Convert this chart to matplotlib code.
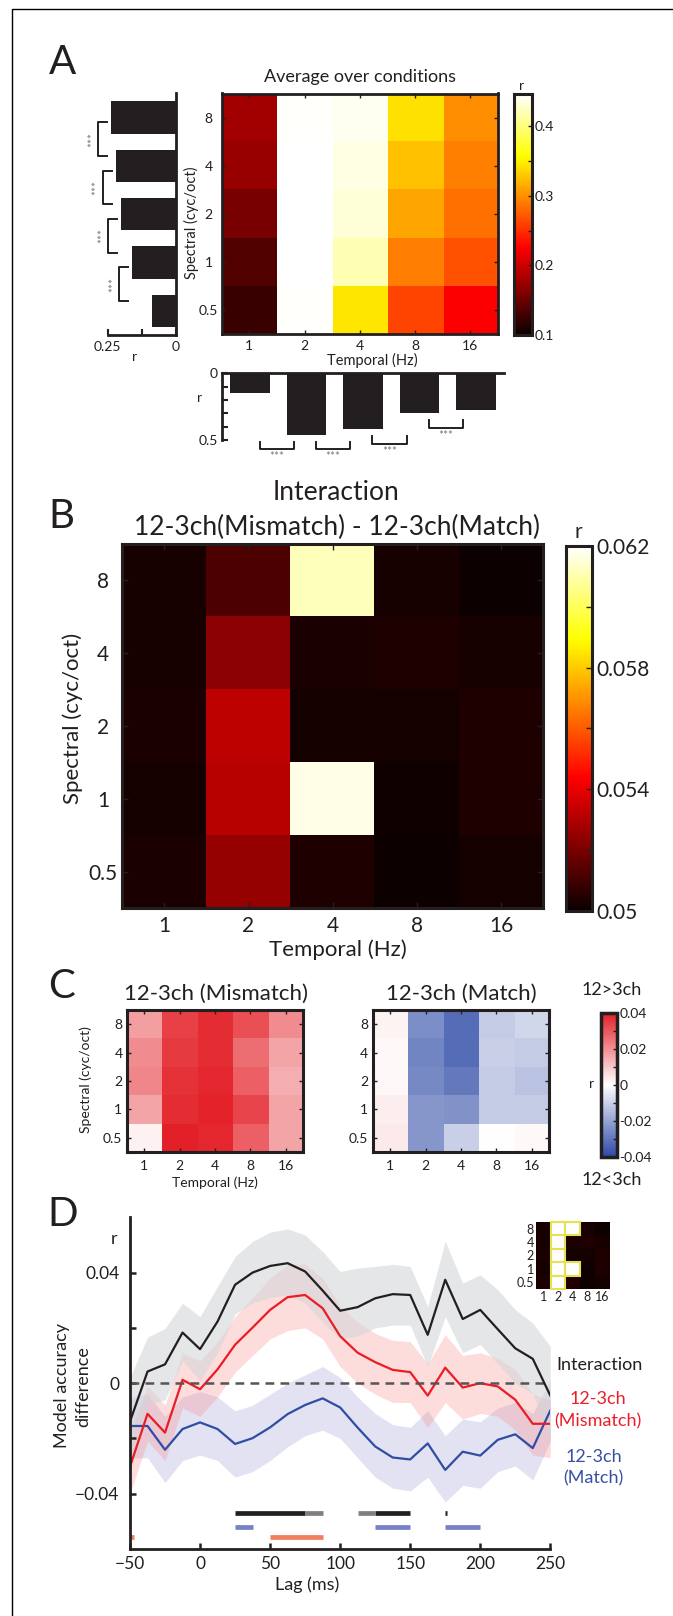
import numpy as np
import matplotlib
matplotlib.use('Agg')
import matplotlib.pyplot as plt
from matplotlib.colors import LinearSegmentedColormap
from matplotlib.patches import Rectangle
from matplotlib.lines import Line2D

DARK = '#231f20'
plt.rcParams['font.family'] = ['Lato', 'DejaVu Sans']
plt.rcParams['axes.unicode_minus'] = True
plt.rcParams['text.color'] = DARK
plt.rcParams['xtick.color'] = DARK
plt.rcParams['ytick.color'] = DARK
plt.rcParams['axes.edgecolor'] = DARK

# ---------------- data ----------------
temporal_labels = ['1', '2', '4', '8', '16']
spectral_labels = ['8', '4', '2', '1', '0.5']   # top row first

# Panel A: average model accuracy (rows: spectral 8..0.5, cols: temporal 1..16)
avg_r = [
    [0.179, 0.444, 0.440, 0.342, 0.299],
    [0.174, 0.446, 0.436, 0.327, 0.293],
    [0.157, 0.446, 0.432, 0.311, 0.284],
    [0.137, 0.445, 0.420, 0.291, 0.268],
    [0.125, 0.444, 0.345, 0.262, 0.225],
]
spectral_marginal = [0.238, 0.220, 0.201, 0.160, 0.087]
temporal_marginal = [0.150, 0.460, 0.418, 0.300, 0.275]

# Panel B: interaction
interaction_r = [
    [0.05026, 0.0512, 0.0612, 0.05026, 0.05009],
    [0.05026, 0.0523, 0.0503, 0.05038, 0.05026],
    [0.05030, 0.0532, 0.0502, 0.05020, 0.05040],
    [0.05020, 0.0531, 0.0617, 0.05010, 0.05040],
    [0.05030, 0.0525, 0.0504, 0.05005, 0.05020],
]
interaction_sig = [
    [0, 1, 1, 0, 0],
    [0, 1, 0, 0, 0],
    [0, 1, 0, 0, 0],
    [0, 1, 1, 0, 0],
    [0, 1, 0, 0, 0],
]

# Panel C
mismatch_diff = [
    [0.0169, 0.0338, 0.0373, 0.0311, 0.0204],
    [0.0204, 0.0347, 0.0373, 0.0258, 0.0160],
    [0.0213, 0.0364, 0.0382, 0.0284, 0.0142],
    [0.0160, 0.0373, 0.0391, 0.0329, 0.0160],
    [0.0023, 0.0395, 0.0382, 0.0284, 0.0160],
]
match_diff = [
    [0.0020, -0.0248, -0.0324, -0.0114, -0.0086],
    [0.0010, -0.0267, -0.0324, -0.0105, -0.0114],
    [0.0015, -0.0257, -0.0295, -0.0114, -0.0133],
    [0.0030, -0.0229, -0.0238, -0.0114, -0.0114],
    [0.0040, -0.0229, -0.0105, 0.0003, 0.0010],
]

# Panel D: time courses
lags = [-50, -37.5, -25, -12.5, 0, 12.5, 25, 37.5, 50, 62.5, 75, 87.5, 100,
        112.5, 125, 137.5, 150, 162.5, 175, 187.5, 200, 212.5, 225, 237.5, 250]
inter_line = [-0.0139, 0.0042, 0.0068, 0.0183, 0.0123, 0.0223, 0.0356, 0.0400, 0.0424,
              0.0434, 0.0404, 0.0335, 0.0262, 0.0275, 0.0307, 0.0322, 0.0319, 0.0175,
              0.0374, 0.0232, 0.0265, 0.0195, 0.0126, 0.0088, -0.0045]
inter_hi = [0.0020, 0.0166, 0.0198, 0.0289, 0.0241, 0.0350, 0.0458, 0.0513, 0.0546,
            0.0558, 0.0536, 0.0476, 0.0404, 0.0416, 0.0422, 0.0430, 0.0422, 0.0277,
            0.0513, 0.0362, 0.0392, 0.0338, 0.0266, 0.0217, 0.0133]
inter_lo = [-0.0300, -0.0080, -0.0060, 0.0080, 0.0010, 0.0110, 0.0250, 0.0290, 0.0310,
            0.0320, 0.0290, 0.0220, 0.0160, 0.0170, 0.0200, 0.0210, 0.0210, 0.0060,
            0.0240, 0.0110, 0.0140, 0.0070, 0.0000, -0.0040, -0.0200]
mismatch_line = [-0.0302, -0.0111, -0.0179, 0.0012, -0.0022, 0.0050, 0.0139, 0.0201, 0.0265,
                 0.0311, 0.0319, 0.0271, 0.0170, 0.0110, 0.0076, 0.0048, 0.0040, -0.0045,
                 0.0056, -0.0016, 0.0000, -0.0012, -0.0060, -0.0147, -0.0147]
mismatch_hi = [-0.0180, -0.0010, -0.0080, 0.0110, 0.0080, 0.0150, 0.0240, 0.0310, 0.0380,
               0.0430, 0.0430, 0.0380, 0.0280, 0.0220, 0.0180, 0.0155, 0.0150, 0.0070,
               0.0175, 0.0100, 0.0110, 0.0090, 0.0050, -0.0040, -0.0060]
mismatch_lo = [-0.0400, -0.0210, -0.0280, -0.0090, -0.0120, -0.0050, 0.0040, 0.0100, 0.0160,
               0.0190, 0.0200, 0.0160, 0.0060, 0.0000, -0.0040, -0.0070, -0.0070, -0.0160,
               -0.0070, -0.0130, -0.0110, -0.0120, -0.0170, -0.0260, -0.0270]
match_line = [-0.0155, -0.0155, -0.0241, -0.0166, -0.0142, -0.0166, -0.0220, -0.0199, -0.0160,
              -0.0112, -0.0079, -0.0055, -0.0088, -0.0161, -0.0229, -0.0269, -0.0276, -0.0218,
              -0.0314, -0.0248, -0.0262, -0.0205, -0.0185, -0.0235, -0.0099]
match_hi = [-0.0050, -0.0040, -0.0120, -0.0050, -0.0030, -0.0050, -0.0100, -0.0080, -0.0040,
            0.0000, 0.0030, 0.0060, 0.0020, -0.0050, -0.0110, -0.0150, -0.0160, -0.0100,
            -0.0190, -0.0130, -0.0140, -0.0090, -0.0070, -0.0110, 0.0010]
match_lo = [-0.0270, -0.0270, -0.0360, -0.0280, -0.0260, -0.0280, -0.0340, -0.0320, -0.0280,
            -0.0230, -0.0190, -0.0170, -0.0200, -0.0270, -0.0340, -0.0380, -0.0390, -0.0340,
            -0.0430, -0.0370, -0.0380, -0.0320, -0.0300, -0.0350, -0.0210]
inter_sig_dark = [(25, 75), (125, 150), (174.5, 176)]
inter_sig_light = [(75, 87.5), (112.5, 125)]
match_sig = [(25, 37.5), (125, 150), (175, 200)]
mismatch_sig = [(-50, -47.5), (50, 87.5)]

# ---------------- figure ----------------
W, H, DPI = 673, 1616, 100
fig = plt.figure(figsize=(W / DPI, H / DPI), dpi=DPI)


def ax_px(x0, y0, x1, y1):
    return fig.add_axes([x0 / W, 1 - y1 / H, (x1 - x0) / W, (y1 - y0) / H])


def ftext(x, y, s, **kw):
    kw.setdefault('ha', 'center')
    kw.setdefault('va', 'center')
    return fig.text(x / W, 1 - y / H, s, **kw)


def style_heat(ax, fs, xpad, ypad, ycenter=False, ticklen=3, lw=2.0, show_y=True):
    ax.set_xticks(range(len(temporal_labels)))
    ax.set_xticklabels(temporal_labels)
    ax.set_yticks(range(len(spectral_labels)))
    ax.set_yticklabels(spectral_labels, ha='center' if ycenter else 'right')
    ax.tick_params(direction='in', top=True, right=True, length=ticklen, width=1,
                   labelsize=fs)
    ax.tick_params(axis='x', pad=xpad)
    ax.tick_params(axis='y', pad=ypad)
    for s in ax.spines.values():
        s.set_linewidth(lw)


# frame
fig.add_artist(Line2D([11.7 / W, 11.7 / W, 1.0], [0.0, 1 - 9.3 / H, 1 - 9.3 / H],
                      transform=fig.transFigure, color='black', lw=1.0))

for letter, (x, y) in zip('ABCD', [(62.5, 62.5), (61.8, 516), (62, 986), (62.5, 1215)]):
    ftext(x, y, letter, fontsize=29)

# ---------------- Panel A ----------------
axA = ax_px(221.7, 93.5, 497.9, 334)
imA = axA.imshow(np.array(avg_r), cmap='hot', vmin=0.1, vmax=0.446, aspect='auto',
                 interpolation='nearest')
style_heat(axA, 10, xpad=4, ypad=9.5, ycenter=True, ticklen=3, lw=2.0)

caxA = ax_px(513.7, 94.3, 532.2, 335)
cbA = fig.colorbar(imA, cax=caxA)
cbA.set_ticks([0.1, 0.15, 0.2, 0.25, 0.3, 0.35, 0.4])
cbA.set_ticklabels(['0.1', '', '0.2', '', '0.3', '', '0.4'])
cbA.ax.tick_params(direction='in', length=3, width=1, labelsize=10, pad=1.5)
cbA.outline.set_linewidth(2.2)

ftext(360.5, 77, 'Average over conditions', fontsize=13)
ftext(191.5, 223, 'Spectral (cyc/oct)', fontsize=10.5, rotation=90)
ftext(372.5, 360, 'Temporal (Hz)', fontsize=10.5)
ftext(521.5, 86, 'r', fontsize=10)

# left marginal bars
axL = ax_px(107.7, 93.3, 176, 335)
yy = np.arange(len(spectral_marginal))
axL.barh(yy, spectral_marginal, height=0.67, color=DARK)
axL.set_ylim(len(yy) - 0.5, -0.5)
axL.set_xlim(0.25, 0)
for s in ['top', 'left']:
    axL.spines[s].set_visible(False)
for s in ['bottom', 'right']:
    axL.spines[s].set_linewidth(2)
axL.set_yticks([])
axL.set_xticks([0.25, 0.125, 0])
axL.set_xticklabels(['0.25', '', '0'])
axL.tick_params(axis='x', direction='in', length=4, width=1.5, labelsize=10, pad=4)
ftext(134.3, 357, 'r', fontsize=10)
for i in range(len(spectral_marginal) - 1):
    xb = max(spectral_marginal[i], spectral_marginal[i + 1]) + 0.048
    y0, y1 = i + 0.1, i + 0.8
    axL.plot([xb - 0.033, xb, xb, xb - 0.033], [y0, y0, y1, y1], color=DARK, lw=1.4,
             clip_on=False)
    axL.annotate('***', xy=(xb, (y0 + y1) / 2), xytext=(-4, 0), textcoords='offset points',
                 rotation=90, ha='center', va='center', fontsize=8.5, color='#7a7a7a',
                 annotation_clip=False)

# bottom marginal bars
axT = ax_px(221.7, 373.3, 504, 440)
xx = np.arange(1, len(temporal_marginal) + 1)
axT.bar(xx, temporal_marginal, width=0.7, color=DARK)
axT.set_xlim(0.5, len(xx) + 0.5)
axT.set_ylim(0.5, 0)
for s in ['right', 'bottom']:
    axT.spines[s].set_visible(False)
for s in ['top', 'left']:
    axT.spines[s].set_linewidth(2)
axT.set_xticks([])
axT.set_yticks([0, 0.1, 0.2, 0.3, 0.4, 0.5])
axT.set_yticklabels(['0', '', '', '', '', '0.5'])
axT.tick_params(axis='y', direction='in', length=4, width=1.5, labelsize=10, pad=3)
ftext(200, 398.3, 'r', fontsize=10)
for i in range(len(temporal_marginal) - 1):
    yb = max(temporal_marginal[i], temporal_marginal[i + 1]) + 0.11
    x0, x1 = xx[i] + 0.17, xx[i] + 0.78
    axT.plot([x0, x0, x1, x1], [yb - 0.057, yb, yb, yb - 0.057], color=DARK, lw=1.4,
             clip_on=False)
    axT.annotate('***', xy=((x0 + x1) / 2, yb), xytext=(0, -5.5), textcoords='offset points',
                 ha='center', va='center', fontsize=8.5, color='#7a7a7a',
                 annotation_clip=False)

# ---------------- Panel B ----------------
axB = ax_px(122.3, 544, 543, 908.3)
imB = axB.imshow(np.array(interaction_r), cmap='hot', vmin=0.05, vmax=0.062, aspect='auto',
                 interpolation='nearest')
style_heat(axB, 15, xpad=5.5, ypad=13.9, ycenter=True, ticklen=4, lw=2.2)

caxB = ax_px(565.7, 546, 592.3, 910.7)
cbB = fig.colorbar(imB, cax=caxB)
cbB.set_ticks([0.05, 0.052, 0.054, 0.056, 0.058, 0.060, 0.062])
cbB.set_ticklabels(['0.05', '', '0.054', '', '0.058', '', '0.062'])
cbB.ax.tick_params(direction='in', length=4, width=1, labelsize=15, pad=3)
cbB.outline.set_linewidth(2.2)

ftext(336, 492.5, 'Interaction', fontsize=19)
ftext(337, 527, '12-3ch(Mismatch) - 12-3ch(Match)', fontsize=19)
ftext(72.9, 718.3, 'Spectral (cyc/oct)', fontsize=16, rotation=90)
ftext(338, 949.5, 'Temporal (Hz)', fontsize=16)
ftext(578.5, 531.7, 'r', fontsize=15)

# ---------------- Panel C ----------------
cmapC = LinearSegmentedColormap.from_list(
    'diffmap', [(0.18, 0.29, 0.65), (1.0, 1.0, 1.0), (0.89, 0.12, 0.15)])
axC1 = ax_px(126.6, 1010, 303.4, 1151.7)
imC1 = axC1.imshow(np.array(mismatch_diff), cmap=cmapC, vmin=-0.04, vmax=0.04,
                   aspect='auto', interpolation='nearest')
style_heat(axC1, 10, xpad=6, ypad=3, ticklen=3, lw=2.2)
axC2 = ax_px(372.5, 1010, 549.4, 1151.7)
axC2.imshow(np.array(match_diff), cmap=cmapC, vmin=-0.04, vmax=0.04, aspect='auto',
            interpolation='nearest')
style_heat(axC2, 10, xpad=6, ypad=3, ticklen=3, lw=2.2)

caxC = ax_px(600.9, 1012.7, 617.2, 1156.7)
cbC = fig.colorbar(imC1, cax=caxC)
cbC.set_ticks([-0.04, -0.03, -0.02, -0.01, 0, 0.01, 0.02, 0.03, 0.04])
cbC.set_ticklabels(['-0.04', '', '-0.02', '', '0', '', '0.02', '', '0.04'])
cbC.ax.tick_params(direction='in', length=3, width=1, labelsize=10, pad=1.5)
cbC.outline.set_linewidth(2.5)

ftext(215.9, 994, '12-3ch (Mismatch)', fontsize=16)
ftext(461.4, 994, '12-3ch (Match)', fontsize=16)
ftext(85.8, 1080, 'Spectral (cyc/oct)', fontsize=10, rotation=90)
ftext(214.6, 1182.3, 'Temporal (Hz)', fontsize=10)
ftext(611.6, 990.3, '12>3ch', fontsize=13)
ftext(611.6, 1180.3, '12<3ch', fontsize=13)
ftext(591.7, 1084, 'r', fontsize=10)

# ---------------- Panel D ----------------
RED = '#ec1c24'
BLUE = '#2f4ea3'
axD = ax_px(130, 1217.3, 550.3, 1549)
axD.fill_between(lags, match_lo, match_hi, color=(0.55, 0.55, 0.80), alpha=0.25, lw=0)
axD.plot(lags, match_line, color=BLUE, lw=1.6)
axD.fill_between(lags, mismatch_lo, mismatch_hi, color=(0.98, 0.55, 0.55), alpha=0.3, lw=0)
axD.plot(lags, mismatch_line, color=RED, lw=1.6)
axD.fill_between(lags, inter_lo, inter_hi, color=(0.83, 0.84, 0.85), alpha=0.6, lw=0)
axD.axhline(0, color='#555555', lw=1.8, dashes=(3.5, 2.5))
axD.plot(lags, inter_line, color=DARK, lw=1.6)


def sig_bars(segs, y, color):
    for a, b in segs:
        axD.plot([a, b], [y, y], color=color, lw=3.4, solid_capstyle='butt')


sig_bars(inter_sig_dark, -0.047, DARK)
sig_bars(inter_sig_light, -0.047, '#808080')
sig_bars(match_sig, -0.0521, '#7880c8')
sig_bars(mismatch_sig, -0.0557, '#f07f5f')

axD.set_xlim(-50, 250)
axD.set_ylim(-0.06, 0.06)
for s in ['top', 'right']:
    axD.spines[s].set_visible(False)
for s in ['left', 'bottom']:
    axD.spines[s].set_linewidth(2)
axD.set_xticks([-50, 0, 50, 100, 150, 200, 250])
axD.set_xticklabels(['\u221250', '0', '50', '100', '150', '200', '250'])
axD.set_yticks([-0.04, -0.02, 0, 0.02, 0.04])
axD.set_yticklabels(['\u22120.04', '', '0', '', '0.04'])
axD.tick_params(direction='in', length=4, width=1.8, labelsize=12.5)
axD.tick_params(axis='x', pad=5)
axD.tick_params(axis='y', pad=7.5)

ftext(61.7, 1385.8, 'Model accuracy', fontsize=13, rotation=90)
ftext(83.3, 1386.7, 'difference', fontsize=13, rotation=90)
ftext(114.3, 1239.3, 'r', fontsize=13)
ftext(307, 1585, 'Lag (ms)', fontsize=13)
ftext(599.3, 1365, 'Interaction', fontsize=13)
ftext(597.7, 1399.3, '12-3ch', fontsize=13, color='#eb1e28')
ftext(597.7, 1421.7, '(Mismatch)', fontsize=13, color='#eb1e28')
ftext(593.7, 1456.7, '12-3ch', fontsize=13, color='#3750a5')
ftext(593.7, 1478.3, '(Match)', fontsize=13, color='#3750a5')

# inset
axI = ax_px(536, 1222, 609.3, 1289)
axI.imshow(np.array(interaction_r), cmap='hot', vmin=0.05, vmax=0.062, aspect='auto',
           interpolation='nearest')
sig = np.array(interaction_sig)
for r, c in zip(*np.nonzero(sig)):
    axI.add_patch(Rectangle((c - 0.5, r - 0.5), 1, 1, facecolor='white',
                            edgecolor='#e6e150', lw=1.5, clip_on=False))
axI.set_xticks(range(len(temporal_labels)))
axI.set_xticklabels(temporal_labels)
axI.set_yticks(range(len(spectral_labels)))
axI.set_yticklabels(spectral_labels)
axI.tick_params(length=0, labelsize=9, pad=1.5)
for s in axI.spines.values():
    s.set_visible(False)

fig.savefig('out.png', dpi=DPI)
